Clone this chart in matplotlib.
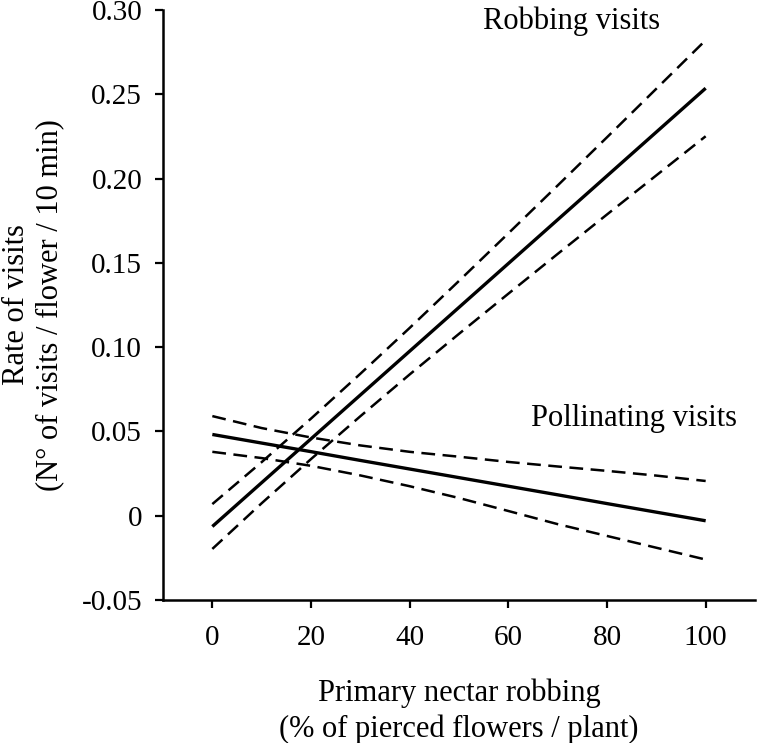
import matplotlib
matplotlib.use("Agg")
import matplotlib.pyplot as plt

plt.rcParams['font.family'] = ['Liberation Serif', 'DejaVu Serif']

# x positions (% of pierced flowers / plant)
x_vals = [0, 10, 20, 30, 40, 50, 60, 70, 80, 90, 100]

# Robbing visits: fitted line and confidence limits
rob_mean = [-0.0064, 0.0196, 0.0456, 0.0716, 0.0976, 0.1236, 0.1496, 0.1756, 0.2016, 0.2276, 0.2536]
rob_upper = [0.0069, 0.0318, 0.0576, 0.0842, 0.1114, 0.1393, 0.1675, 0.1959, 0.2245, 0.2533, 0.2821]
rob_lower = [-0.0197, 0.0074, 0.0336, 0.0590, 0.0838, 0.1079, 0.1317, 0.1553, 0.1787, 0.2019, 0.2251]

# Pollinating visits: fitted line and confidence limits
pol_mean = [0.0482, 0.0431, 0.0380, 0.0328, 0.0277, 0.0226, 0.0175, 0.0124, 0.0072, 0.0021, -0.0030]
pol_upper = [0.0591, 0.0520, 0.0464, 0.0417, 0.0379, 0.0350, 0.0319, 0.0292, 0.0266, 0.0238, 0.0206]
pol_lower = [0.0379, 0.0342, 0.0296, 0.0239, 0.0175, 0.0105, 0.0028, -0.0050, -0.0120, -0.0190, -0.0260]

x_ticks = [0, 20, 40, 60, 80, 100]
y_ticks = [-0.05, 0, 0.05, 0.10, 0.15, 0.20, 0.25, 0.30]
y_ticklabels = ['-0.05', '0', '0.05', '0.10', '0.15', '0.20', '0.25', '0.30']

fig = plt.figure(figsize=(7.61, 7.43), dpi=100)
ax = fig.add_axes([163/761, 1 - 600/743, (755-163)/761, (600-10)/743])

dash = (0, (5.5, 3))
ax.plot(x_vals, rob_mean, color='black', lw=2.4, solid_capstyle='butt')
ax.plot(x_vals, rob_upper, color='black', lw=1.8, linestyle=dash)
ax.plot(x_vals, rob_lower, color='black', lw=1.8, linestyle=dash)
ax.plot(x_vals, pol_mean, color='black', lw=2.4, solid_capstyle='butt')
ax.plot(x_vals, pol_upper, color='black', lw=1.8, linestyle=dash)
ax.plot(x_vals, pol_lower, color='black', lw=1.8, linestyle=dash)

ax.set_xlim(-10, 110)
ax.set_ylim(-0.05, 0.30)
ax.set_xticks(x_ticks)
ax.set_yticks(y_ticks)
ax.set_yticklabels(y_ticklabels)

for s in ['top', 'right']:
    ax.spines[s].set_visible(False)
for s in ['left', 'bottom']:
    ax.spines[s].set_linewidth(1.8)
ax.tick_params(axis='both', direction='out', length=6, width=1.6, labelsize=21)
ax.tick_params(axis='x', pad=12)
ax.tick_params(axis='y', pad=9)

ax.set_xlabel('Primary nectar robbing\n(% of pierced flowers / plant)', fontsize=22,
              linespacing=1.3, va='center')
ax.xaxis.set_label_coords(0.5, -0.188)
ax.set_ylabel('Rate of visits\n(N° of visits / flower / 10 min)', fontsize=22,
              linespacing=1.2, va='center')
ax.yaxis.set_label_coords(-0.2196, 0.5)

ax.text(54.8, 0.289, 'Robbing visits', fontsize=22, ha='left', va='baseline')
ax.text(106.3, 0.053, 'Pollinating visits', fontsize=22, ha='right', va='baseline')

fig.savefig('out.png', dpi=100)
